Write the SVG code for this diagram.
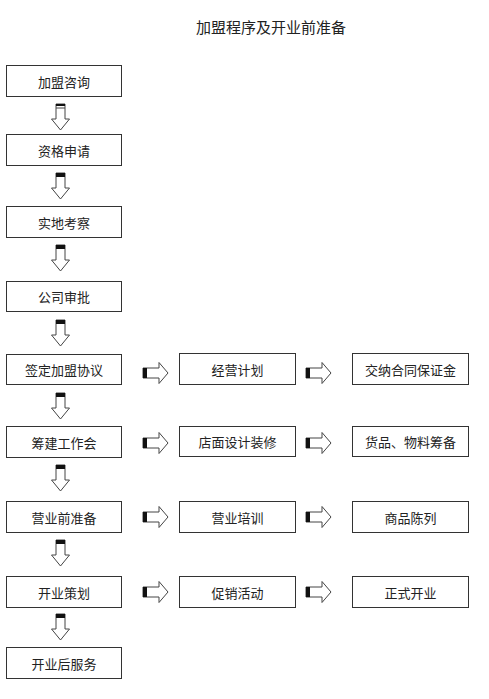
<svg xmlns="http://www.w3.org/2000/svg" xmlns:xlink="http://www.w3.org/1999/xlink" width="489" height="699" viewBox="0 0 489 699">
<style>
.box{fill:#fff;stroke:#333;stroke-width:1}
.t{font-family:"Noto Sans CJK SC","Noto Sans CJK JP",sans-serif;font-size:13px;fill:#222;text-anchor:middle;dominant-baseline:central}
.title{font-family:"Noto Sans CJK SC","Noto Sans CJK JP",sans-serif;font-size:15px;fill:#222;text-anchor:middle;dominant-baseline:central}
.ar{fill:#fff;stroke:#444;stroke-width:1;stroke-linejoin:miter}
.cap{fill:#111}
</style>
<defs>
<g id="va">
<path class="ar" d="M-4.5,0 h9 v15 h4.5 l-9,11 l-9,-11 h4.5 z"/>
<rect class="cap" x="-4.5" y="0" width="9" height="4"/>
</g>
<g id="va1">
<path class="ar" d="M-4.5,0 h9 v15 h4.5 l-9,11 l-9,-11 h4.5 z"/>
<rect class="cap" x="-4.5" y="0" width="9" height="2"/>
<line x1="-4.5" y1="4" x2="4.5" y2="4" stroke="#444" stroke-width="1"/>
</g>
<g id="ha">
<path class="ar" d="M0,-5 h16 v-5.5 l9,10.5 l-9,10.5 v-5.5 h-16 z"/>
<rect class="cap" x="0" y="-5" width="4" height="10"/>
</g>
</defs>
<rect width="489" height="699" fill="#fff"/>
<text class="title" x="271" y="26">加盟程序及开业前准备</text>

<g id="connectors">
<use xlink:href="#va1" x="60.5" y="104"/>
<use xlink:href="#va" x="60.5" y="173"/>
<use xlink:href="#va" x="60.5" y="245"/>
<use xlink:href="#va" x="60.5" y="320"/>
<use xlink:href="#va" x="60.5" y="393"/>
<use xlink:href="#va" x="60.5" y="465"/>
<use xlink:href="#va" x="60.5" y="540"/>
<use xlink:href="#va" x="60.5" y="614"/>
<use xlink:href="#ha" x="143" y="373"/>
<use xlink:href="#ha" x="306" y="373"/>
<use xlink:href="#ha" x="143" y="443"/>
<use xlink:href="#ha" x="306" y="443"/>
<use xlink:href="#ha" x="143" y="517"/>
<use xlink:href="#ha" x="306" y="517"/>
<use xlink:href="#ha" x="143" y="592"/>
<use xlink:href="#ha" x="306" y="592"/>
</g>

<g id="n1"><rect class="box" x="6.5" y="65.5" width="115" height="31"/><text class="t" x="64" y="81">加盟咨询</text></g>
<g id="n2"><rect class="box" x="6.5" y="134.5" width="115" height="31"/><text class="t" x="64" y="150">资格申请</text></g>
<g id="n3"><rect class="box" x="6.5" y="206.5" width="115" height="31"/><text class="t" x="64" y="222">实地考察</text></g>
<g id="n4"><rect class="box" x="6.5" y="281.5" width="115" height="30"/><text class="t" x="64" y="296.5">公司审批</text></g>
<g id="n5"><rect class="box" x="6.5" y="354.5" width="115" height="30"/><text class="t" x="64" y="369.5">签定加盟协议</text></g>
<g id="n6"><rect class="box" x="6.5" y="426.5" width="115" height="31"/><text class="t" x="64" y="442">筹建工作会</text></g>
<g id="n7"><rect class="box" x="6.5" y="501.5" width="115" height="31"/><text class="t" x="64" y="517">营业前准备</text></g>
<g id="n8"><rect class="box" x="6.5" y="576.5" width="115" height="31"/><text class="t" x="64" y="592">开业策划</text></g>
<g id="n9"><rect class="box" x="6.5" y="647.5" width="115" height="31"/><text class="t" x="64" y="663">开业后服务</text></g>

<g id="m1"><rect class="box" x="179.5" y="353.5" width="116" height="31"/><text class="t" x="237.5" y="369">经营计划</text></g>
<g id="m2"><rect class="box" x="179.5" y="426.5" width="116" height="30"/><text class="t" x="237.5" y="441.5">店面设计装修</text></g>
<g id="m3"><rect class="box" x="179.5" y="501.5" width="116" height="31"/><text class="t" x="237.5" y="517">营业培训</text></g>
<g id="m4"><rect class="box" x="179.5" y="576.5" width="116" height="31"/><text class="t" x="237.5" y="592">促销活动</text></g>

<g id="r1"><rect class="box" x="352.5" y="353.5" width="116" height="31"/><text class="t" x="410.5" y="369">交纳合同保证金</text></g>
<g id="r2"><rect class="box" x="352.5" y="426.5" width="116" height="30"/><text class="t" x="410.5" y="441.5">货品、物料筹备</text></g>
<g id="r3"><rect class="box" x="352.5" y="501.5" width="116" height="31"/><text class="t" x="410.5" y="517">商品陈列</text></g>
<g id="r4"><rect class="box" x="352.5" y="576.5" width="116" height="31"/><text class="t" x="410.5" y="592">正式开业</text></g>
</svg>
